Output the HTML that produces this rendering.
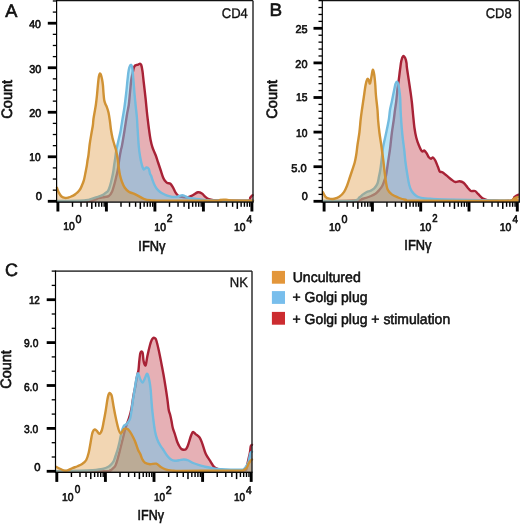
<!DOCTYPE html><html><head><meta charset="utf-8"><style>html,body{margin:0;padding:0;background:#fff;}svg{display:block;will-change:transform;}text{font-family:"Liberation Sans",sans-serif;fill:#111;text-rendering:geometricPrecision;}</style></head><body><svg width="520" height="524" viewBox="0 0 520 524"><path d="M57.00,201.8 L57.00,201.10 C62.50,201.07 83.08,201.38 90.00,200.90 C96.92,200.42 96.04,198.85 98.50,198.20 C100.96,197.55 103.03,197.37 104.75,197.00 C106.47,196.63 107.59,196.88 108.80,196.00 C110.01,195.12 111.00,193.92 112.00,191.70 C113.00,189.48 114.07,185.32 114.80,182.70 C115.53,180.08 115.90,178.15 116.40,176.00 C116.90,173.85 117.28,172.82 117.80,169.80 C118.32,166.78 118.98,161.20 119.50,157.90 C120.02,154.60 120.50,151.98 120.90,150.00 C121.30,148.02 121.32,149.12 121.90,146.00 C122.48,142.88 123.57,136.42 124.40,131.25 C125.23,126.08 126.18,119.38 126.90,115.00 C127.62,110.62 128.23,108.75 128.75,105.00 C129.27,101.25 129.58,96.67 130.00,92.50 C130.42,88.33 130.83,83.12 131.25,80.00 C131.67,76.88 132.08,75.75 132.50,73.75 C132.92,71.75 133.33,69.36 133.75,68.00 C134.17,66.64 134.54,66.10 135.00,65.60 C135.46,65.10 135.98,65.17 136.50,65.00 C137.02,64.83 137.52,64.83 138.10,64.60 C138.68,64.37 139.47,63.53 140.00,63.60 C140.53,63.67 140.83,63.73 141.25,65.00 C141.67,66.28 142.08,68.33 142.50,71.25 C142.92,74.17 143.23,77.92 143.75,82.50 C144.27,87.08 145.07,93.83 145.60,98.75 C146.12,103.67 146.55,108.62 146.90,112.00 C147.25,115.38 147.39,116.42 147.70,119.00 C148.01,121.58 148.27,124.00 148.75,127.50 C149.23,131.00 149.97,136.67 150.60,140.00 C151.22,143.33 151.67,145.00 152.50,147.50 C153.33,150.00 154.67,152.50 155.60,155.00 C156.53,157.50 157.27,160.00 158.10,162.50 C158.93,165.00 159.77,167.50 160.60,170.00 C161.43,172.50 162.37,175.70 163.10,177.50 C163.83,179.30 164.30,179.88 165.00,180.80 C165.70,181.72 166.40,182.52 167.30,183.00 C168.20,183.48 169.43,182.92 170.40,183.70 C171.37,184.48 172.27,186.27 173.10,187.70 C173.93,189.13 174.53,190.95 175.40,192.30 C176.27,193.65 177.15,195.03 178.30,195.80 C179.45,196.57 180.67,196.65 182.30,196.90 C183.93,197.15 186.37,197.57 188.10,197.30 C189.83,197.03 191.07,196.13 192.70,195.30 C194.33,194.47 196.37,192.60 197.90,192.30 C199.43,192.00 200.65,192.73 201.90,193.50 C203.15,194.27 204.25,195.95 205.40,196.90 C206.55,197.85 207.45,198.65 208.80,199.20 C210.15,199.75 210.80,199.98 213.50,200.20 C216.20,200.42 219.33,200.43 225.00,200.50 C230.67,200.57 243.28,201.10 247.50,200.60 C251.72,200.10 249.45,198.40 250.30,197.50 C251.15,196.60 252.22,195.58 252.60,195.20 L252.60,201.8 Z" fill="rgba(192,58,70,0.40)" stroke="none"/><path d="M57.00,201.10 C62.50,201.07 83.08,201.38 90.00,200.90 C96.92,200.42 96.04,198.85 98.50,198.20 C100.96,197.55 103.03,197.37 104.75,197.00 C106.47,196.63 107.59,196.88 108.80,196.00 C110.01,195.12 111.00,193.92 112.00,191.70 C113.00,189.48 114.07,185.32 114.80,182.70 C115.53,180.08 115.90,178.15 116.40,176.00 C116.90,173.85 117.28,172.82 117.80,169.80 C118.32,166.78 118.98,161.20 119.50,157.90 C120.02,154.60 120.50,151.98 120.90,150.00 C121.30,148.02 121.32,149.12 121.90,146.00 C122.48,142.88 123.57,136.42 124.40,131.25 C125.23,126.08 126.18,119.38 126.90,115.00 C127.62,110.62 128.23,108.75 128.75,105.00 C129.27,101.25 129.58,96.67 130.00,92.50 C130.42,88.33 130.83,83.12 131.25,80.00 C131.67,76.88 132.08,75.75 132.50,73.75 C132.92,71.75 133.33,69.36 133.75,68.00 C134.17,66.64 134.54,66.10 135.00,65.60 C135.46,65.10 135.98,65.17 136.50,65.00 C137.02,64.83 137.52,64.83 138.10,64.60 C138.68,64.37 139.47,63.53 140.00,63.60 C140.53,63.67 140.83,63.73 141.25,65.00 C141.67,66.28 142.08,68.33 142.50,71.25 C142.92,74.17 143.23,77.92 143.75,82.50 C144.27,87.08 145.07,93.83 145.60,98.75 C146.12,103.67 146.55,108.62 146.90,112.00 C147.25,115.38 147.39,116.42 147.70,119.00 C148.01,121.58 148.27,124.00 148.75,127.50 C149.23,131.00 149.97,136.67 150.60,140.00 C151.22,143.33 151.67,145.00 152.50,147.50 C153.33,150.00 154.67,152.50 155.60,155.00 C156.53,157.50 157.27,160.00 158.10,162.50 C158.93,165.00 159.77,167.50 160.60,170.00 C161.43,172.50 162.37,175.70 163.10,177.50 C163.83,179.30 164.30,179.88 165.00,180.80 C165.70,181.72 166.40,182.52 167.30,183.00 C168.20,183.48 169.43,182.92 170.40,183.70 C171.37,184.48 172.27,186.27 173.10,187.70 C173.93,189.13 174.53,190.95 175.40,192.30 C176.27,193.65 177.15,195.03 178.30,195.80 C179.45,196.57 180.67,196.65 182.30,196.90 C183.93,197.15 186.37,197.57 188.10,197.30 C189.83,197.03 191.07,196.13 192.70,195.30 C194.33,194.47 196.37,192.60 197.90,192.30 C199.43,192.00 200.65,192.73 201.90,193.50 C203.15,194.27 204.25,195.95 205.40,196.90 C206.55,197.85 207.45,198.65 208.80,199.20 C210.15,199.75 210.80,199.98 213.50,200.20 C216.20,200.42 219.33,200.43 225.00,200.50 C230.67,200.57 243.28,201.10 247.50,200.60 C251.72,200.10 249.45,198.40 250.30,197.50 C251.15,196.60 252.22,195.58 252.60,195.20" fill="none" stroke="#A82236" stroke-width="2.4" stroke-linejoin="round" stroke-linecap="round"/><path d="M57.00,201.8 L57.00,201.00 C60.83,200.97 74.75,201.00 80.00,200.80 C85.25,200.60 85.83,200.37 88.50,199.80 C91.17,199.23 94.08,198.00 96.00,197.40 C97.92,196.80 98.75,196.67 100.00,196.20 C101.25,195.73 102.67,195.07 103.50,194.60 C104.33,194.13 104.28,193.97 105.00,193.40 C105.72,192.83 107.08,192.10 107.80,191.20 C108.52,190.30 108.80,189.37 109.30,188.00 C109.80,186.63 110.32,184.83 110.80,183.00 C111.28,181.17 111.80,178.83 112.20,177.00 C112.60,175.17 112.87,174.00 113.20,172.00 C113.53,170.00 113.83,167.50 114.20,165.00 C114.57,162.50 115.07,159.33 115.40,157.00 C115.73,154.67 115.75,153.50 116.20,151.00 C116.65,148.50 117.55,144.50 118.10,142.00 C118.65,139.50 119.08,137.83 119.50,136.00 C119.92,134.17 120.10,133.83 120.60,131.00 C121.10,128.17 121.87,122.92 122.50,119.00 C123.13,115.08 123.78,111.92 124.40,107.50 C125.03,103.08 125.73,97.08 126.25,92.50 C126.77,87.92 127.08,83.75 127.50,80.00 C127.92,76.25 128.23,72.50 128.75,70.00 C129.27,67.50 130.03,65.42 130.60,65.00 C131.17,64.58 131.78,65.62 132.20,67.50 C132.62,69.38 132.73,72.08 133.10,76.25 C133.47,80.42 133.98,87.71 134.40,92.50 C134.82,97.29 135.18,100.83 135.60,105.00 C136.02,109.17 136.58,113.75 136.90,117.50 C137.22,121.25 137.19,122.71 137.50,127.50 C137.81,132.29 138.33,141.50 138.75,146.25 C139.17,151.00 139.47,152.88 140.00,156.00 C140.53,159.12 141.28,162.75 141.90,165.00 C142.53,167.25 143.03,169.08 143.75,169.50 C144.47,169.92 145.42,167.62 146.25,167.50 C147.08,167.38 148.12,167.71 148.75,168.75 C149.38,169.79 149.58,172.54 150.00,173.75 C150.42,174.96 150.83,174.96 151.25,176.00 C151.67,177.04 151.96,178.50 152.50,180.00 C153.04,181.50 153.75,183.50 154.50,185.00 C155.25,186.50 156.12,187.87 157.00,189.00 C157.88,190.13 158.80,191.00 159.80,191.80 C160.80,192.60 161.88,193.22 163.00,193.80 C164.12,194.38 165.33,194.88 166.50,195.30 C167.67,195.72 168.75,196.03 170.00,196.30 C171.25,196.57 172.75,196.85 174.00,196.90 C175.25,196.95 176.53,196.78 177.50,196.60 C178.47,196.42 179.00,196.03 179.80,195.80 C180.60,195.57 181.47,195.17 182.30,195.20 C183.13,195.23 183.93,195.63 184.80,196.00 C185.67,196.37 186.57,197.05 187.50,197.40 C188.43,197.75 189.15,197.87 190.40,198.10 C191.65,198.33 193.08,198.55 195.00,198.80 C196.92,199.05 198.57,199.32 201.90,199.60 C205.23,199.88 206.48,200.32 215.00,200.50 C223.52,200.68 246.67,200.67 253.00,200.70 L253.00,201.8 Z" fill="rgba(110,202,239,0.50)" stroke="none"/><path d="M57.00,201.00 C60.83,200.97 74.75,201.00 80.00,200.80 C85.25,200.60 85.83,200.37 88.50,199.80 C91.17,199.23 94.08,198.00 96.00,197.40 C97.92,196.80 98.75,196.67 100.00,196.20 C101.25,195.73 102.67,195.07 103.50,194.60 C104.33,194.13 104.28,193.97 105.00,193.40 C105.72,192.83 107.08,192.10 107.80,191.20 C108.52,190.30 108.80,189.37 109.30,188.00 C109.80,186.63 110.32,184.83 110.80,183.00 C111.28,181.17 111.80,178.83 112.20,177.00 C112.60,175.17 112.87,174.00 113.20,172.00 C113.53,170.00 113.83,167.50 114.20,165.00 C114.57,162.50 115.07,159.33 115.40,157.00 C115.73,154.67 115.75,153.50 116.20,151.00 C116.65,148.50 117.55,144.50 118.10,142.00 C118.65,139.50 119.08,137.83 119.50,136.00 C119.92,134.17 120.10,133.83 120.60,131.00 C121.10,128.17 121.87,122.92 122.50,119.00 C123.13,115.08 123.78,111.92 124.40,107.50 C125.03,103.08 125.73,97.08 126.25,92.50 C126.77,87.92 127.08,83.75 127.50,80.00 C127.92,76.25 128.23,72.50 128.75,70.00 C129.27,67.50 130.03,65.42 130.60,65.00 C131.17,64.58 131.78,65.62 132.20,67.50 C132.62,69.38 132.73,72.08 133.10,76.25 C133.47,80.42 133.98,87.71 134.40,92.50 C134.82,97.29 135.18,100.83 135.60,105.00 C136.02,109.17 136.58,113.75 136.90,117.50 C137.22,121.25 137.19,122.71 137.50,127.50 C137.81,132.29 138.33,141.50 138.75,146.25 C139.17,151.00 139.47,152.88 140.00,156.00 C140.53,159.12 141.28,162.75 141.90,165.00 C142.53,167.25 143.03,169.08 143.75,169.50 C144.47,169.92 145.42,167.62 146.25,167.50 C147.08,167.38 148.12,167.71 148.75,168.75 C149.38,169.79 149.58,172.54 150.00,173.75 C150.42,174.96 150.83,174.96 151.25,176.00 C151.67,177.04 151.96,178.50 152.50,180.00 C153.04,181.50 153.75,183.50 154.50,185.00 C155.25,186.50 156.12,187.87 157.00,189.00 C157.88,190.13 158.80,191.00 159.80,191.80 C160.80,192.60 161.88,193.22 163.00,193.80 C164.12,194.38 165.33,194.88 166.50,195.30 C167.67,195.72 168.75,196.03 170.00,196.30 C171.25,196.57 172.75,196.85 174.00,196.90 C175.25,196.95 176.53,196.78 177.50,196.60 C178.47,196.42 179.00,196.03 179.80,195.80 C180.60,195.57 181.47,195.17 182.30,195.20 C183.13,195.23 183.93,195.63 184.80,196.00 C185.67,196.37 186.57,197.05 187.50,197.40 C188.43,197.75 189.15,197.87 190.40,198.10 C191.65,198.33 193.08,198.55 195.00,198.80 C196.92,199.05 198.57,199.32 201.90,199.60 C205.23,199.88 206.48,200.32 215.00,200.50 C223.52,200.68 246.67,200.67 253.00,200.70" fill="none" stroke="#72BBDF" stroke-width="2.4" stroke-linejoin="round" stroke-linecap="round"/><path d="M56.90,201.8 L56.90,187.80 C57.20,188.57 57.93,190.95 58.70,192.40 C59.47,193.85 60.45,195.58 61.50,196.50 C62.55,197.42 63.83,197.73 65.00,197.90 C66.17,198.07 67.47,197.73 68.50,197.50 C69.53,197.27 70.35,196.85 71.20,196.50 C72.05,196.15 72.85,195.83 73.60,195.40 C74.35,194.97 75.00,194.45 75.70,193.90 C76.40,193.35 77.15,192.75 77.80,192.10 C78.45,191.45 79.07,190.75 79.60,190.00 C80.13,189.25 80.57,188.47 81.00,187.60 C81.43,186.73 81.82,185.73 82.20,184.80 C82.58,183.87 82.97,182.97 83.30,182.00 C83.63,181.03 83.83,180.58 84.20,179.00 C84.57,177.42 85.08,174.67 85.50,172.50 C85.92,170.33 86.40,168.08 86.75,166.00 C87.10,163.92 87.31,161.83 87.60,160.00 C87.89,158.17 88.14,157.71 88.50,155.00 C88.86,152.29 89.23,147.50 89.75,143.75 C90.27,140.00 91.07,135.62 91.60,132.50 C92.12,129.38 92.58,127.29 92.90,125.00 C93.22,122.71 93.15,121.25 93.50,118.75 C93.85,116.25 94.58,112.50 95.00,110.00 C95.42,107.50 95.67,106.25 96.00,103.75 C96.33,101.25 96.68,98.12 97.00,95.00 C97.32,91.88 97.60,88.00 97.90,85.00 C98.20,82.00 98.49,78.88 98.80,77.00 C99.11,75.12 99.42,74.12 99.75,73.70 C100.08,73.28 100.42,73.62 100.80,74.50 C101.17,75.38 101.65,77.25 102.00,79.00 C102.35,80.75 102.65,82.67 102.90,85.00 C103.15,87.33 103.28,90.50 103.50,93.00 C103.72,95.50 103.88,98.17 104.20,100.00 C104.52,101.83 105.00,102.92 105.40,104.00 C105.80,105.08 106.08,105.08 106.60,106.50 C107.12,107.92 107.95,110.08 108.50,112.50 C109.05,114.92 109.48,118.08 109.90,121.00 C110.32,123.92 110.57,127.17 111.00,130.00 C111.43,132.83 111.98,135.71 112.50,138.00 C113.02,140.29 113.52,141.75 114.10,143.75 C114.68,145.75 115.43,147.62 116.00,150.00 C116.57,152.38 117.03,155.02 117.50,158.00 C117.97,160.98 118.40,165.10 118.80,167.90 C119.20,170.70 119.38,172.50 119.90,174.80 C120.42,177.10 121.08,179.55 121.90,181.70 C122.72,183.85 123.65,186.03 124.80,187.70 C125.95,189.37 127.30,190.70 128.80,191.70 C130.30,192.70 132.15,192.97 133.80,193.70 C135.45,194.43 137.05,195.25 138.70,196.10 C140.35,196.95 141.82,198.10 143.70,198.80 C145.58,199.50 147.28,200.00 150.00,200.30 C152.72,200.60 148.83,200.55 160.00,200.60 C171.17,200.65 207.00,200.72 217.00,200.60 C227.00,200.48 218.50,200.03 220.00,199.90 C221.50,199.77 224.17,199.72 226.00,199.80 C227.83,199.88 226.50,200.27 231.00,200.40 C235.50,200.53 249.33,200.57 253.00,200.60 L253.00,201.8 Z" fill="rgba(220,145,50,0.37)" stroke="none"/><path d="M56.90,187.80 C57.20,188.57 57.93,190.95 58.70,192.40 C59.47,193.85 60.45,195.58 61.50,196.50 C62.55,197.42 63.83,197.73 65.00,197.90 C66.17,198.07 67.47,197.73 68.50,197.50 C69.53,197.27 70.35,196.85 71.20,196.50 C72.05,196.15 72.85,195.83 73.60,195.40 C74.35,194.97 75.00,194.45 75.70,193.90 C76.40,193.35 77.15,192.75 77.80,192.10 C78.45,191.45 79.07,190.75 79.60,190.00 C80.13,189.25 80.57,188.47 81.00,187.60 C81.43,186.73 81.82,185.73 82.20,184.80 C82.58,183.87 82.97,182.97 83.30,182.00 C83.63,181.03 83.83,180.58 84.20,179.00 C84.57,177.42 85.08,174.67 85.50,172.50 C85.92,170.33 86.40,168.08 86.75,166.00 C87.10,163.92 87.31,161.83 87.60,160.00 C87.89,158.17 88.14,157.71 88.50,155.00 C88.86,152.29 89.23,147.50 89.75,143.75 C90.27,140.00 91.07,135.62 91.60,132.50 C92.12,129.38 92.58,127.29 92.90,125.00 C93.22,122.71 93.15,121.25 93.50,118.75 C93.85,116.25 94.58,112.50 95.00,110.00 C95.42,107.50 95.67,106.25 96.00,103.75 C96.33,101.25 96.68,98.12 97.00,95.00 C97.32,91.88 97.60,88.00 97.90,85.00 C98.20,82.00 98.49,78.88 98.80,77.00 C99.11,75.12 99.42,74.12 99.75,73.70 C100.08,73.28 100.42,73.62 100.80,74.50 C101.17,75.38 101.65,77.25 102.00,79.00 C102.35,80.75 102.65,82.67 102.90,85.00 C103.15,87.33 103.28,90.50 103.50,93.00 C103.72,95.50 103.88,98.17 104.20,100.00 C104.52,101.83 105.00,102.92 105.40,104.00 C105.80,105.08 106.08,105.08 106.60,106.50 C107.12,107.92 107.95,110.08 108.50,112.50 C109.05,114.92 109.48,118.08 109.90,121.00 C110.32,123.92 110.57,127.17 111.00,130.00 C111.43,132.83 111.98,135.71 112.50,138.00 C113.02,140.29 113.52,141.75 114.10,143.75 C114.68,145.75 115.43,147.62 116.00,150.00 C116.57,152.38 117.03,155.02 117.50,158.00 C117.97,160.98 118.40,165.10 118.80,167.90 C119.20,170.70 119.38,172.50 119.90,174.80 C120.42,177.10 121.08,179.55 121.90,181.70 C122.72,183.85 123.65,186.03 124.80,187.70 C125.95,189.37 127.30,190.70 128.80,191.70 C130.30,192.70 132.15,192.97 133.80,193.70 C135.45,194.43 137.05,195.25 138.70,196.10 C140.35,196.95 141.82,198.10 143.70,198.80 C145.58,199.50 147.28,200.00 150.00,200.30 C152.72,200.60 148.83,200.55 160.00,200.60 C171.17,200.65 207.00,200.72 217.00,200.60 C227.00,200.48 218.50,200.03 220.00,199.90 C221.50,199.77 224.17,199.72 226.00,199.80 C227.83,199.88 226.50,200.27 231.00,200.40 C235.50,200.53 249.33,200.57 253.00,200.60" fill="none" stroke="#D09234" stroke-width="2.4" stroke-linejoin="round" stroke-linecap="round"/><path d="M323.00,201.8 L323.00,201.10 C328.33,201.05 348.33,201.19 355.00,200.80 C361.67,200.41 360.42,199.51 363.00,198.75 C365.58,197.99 368.42,197.08 370.50,196.25 C372.58,195.42 374.04,194.79 375.50,193.75 C376.96,192.71 378.13,191.29 379.25,190.00 C380.37,188.71 381.38,187.50 382.20,186.00 C383.02,184.50 383.55,182.83 384.20,181.00 C384.85,179.17 385.47,178.08 386.10,175.00 C386.73,171.92 387.37,166.67 388.00,162.50 C388.63,158.33 389.48,152.92 389.90,150.00 C390.32,147.08 390.17,147.92 390.50,145.00 C390.83,142.08 391.36,136.67 391.90,132.50 C392.44,128.33 393.23,123.75 393.75,120.00 C394.27,116.25 394.58,113.12 395.00,110.00 C395.42,106.88 395.83,104.79 396.25,101.25 C396.67,97.71 397.08,92.29 397.50,88.75 C397.92,85.21 398.33,83.12 398.75,80.00 C399.17,76.88 399.57,73.17 400.00,70.00 C400.43,66.83 400.78,63.30 401.30,61.00 C401.82,58.70 402.45,56.70 403.10,56.20 C403.75,55.70 404.63,56.87 405.20,58.00 C405.77,59.13 406.22,61.42 406.50,63.00 C406.78,64.58 406.52,64.67 406.90,67.50 C407.27,70.33 408.13,75.83 408.75,80.00 C409.37,84.17 410.08,88.75 410.60,92.50 C411.12,96.25 411.48,98.75 411.90,102.50 C412.32,106.25 412.68,110.83 413.10,115.00 C413.52,119.17 413.88,123.75 414.40,127.50 C414.92,131.25 415.52,134.58 416.25,137.50 C416.98,140.42 417.81,142.71 418.75,145.00 C419.69,147.29 420.96,150.32 421.90,151.25 C422.84,152.18 423.57,150.18 424.40,150.60 C425.23,151.02 426.20,152.70 426.90,153.75 C427.60,154.80 427.90,156.07 428.60,156.90 C429.30,157.73 430.37,158.65 431.10,158.75 C431.83,158.85 432.30,157.21 433.00,157.50 C433.70,157.79 434.47,158.92 435.30,160.50 C436.13,162.08 437.23,165.13 438.00,167.00 C438.77,168.87 439.17,170.83 439.90,171.70 C440.63,172.57 441.32,171.58 442.40,172.20 C443.48,172.82 444.92,174.18 446.40,175.40 C447.88,176.62 449.80,178.40 451.30,179.50 C452.80,180.60 454.03,181.72 455.40,182.00 C456.77,182.28 458.13,181.07 459.50,181.20 C460.87,181.33 462.23,181.72 463.60,182.80 C464.97,183.88 466.47,186.33 467.70,187.70 C468.93,189.07 469.78,190.45 471.00,191.00 C472.22,191.55 473.78,190.47 475.00,191.00 C476.22,191.53 477.07,192.98 478.30,194.20 C479.53,195.42 480.90,197.32 482.40,198.30 C483.90,199.28 485.67,199.70 487.30,200.10 C488.93,200.50 488.25,200.60 492.20,200.70 C496.15,200.80 507.28,201.32 511.00,200.70 C514.72,200.08 513.58,197.85 514.50,197.00 C515.42,196.15 515.83,195.98 516.50,195.60 C517.17,195.22 518.17,194.85 518.50,194.70 L518.50,201.8 Z" fill="rgba(192,58,70,0.40)" stroke="none"/><path d="M323.00,201.10 C328.33,201.05 348.33,201.19 355.00,200.80 C361.67,200.41 360.42,199.51 363.00,198.75 C365.58,197.99 368.42,197.08 370.50,196.25 C372.58,195.42 374.04,194.79 375.50,193.75 C376.96,192.71 378.13,191.29 379.25,190.00 C380.37,188.71 381.38,187.50 382.20,186.00 C383.02,184.50 383.55,182.83 384.20,181.00 C384.85,179.17 385.47,178.08 386.10,175.00 C386.73,171.92 387.37,166.67 388.00,162.50 C388.63,158.33 389.48,152.92 389.90,150.00 C390.32,147.08 390.17,147.92 390.50,145.00 C390.83,142.08 391.36,136.67 391.90,132.50 C392.44,128.33 393.23,123.75 393.75,120.00 C394.27,116.25 394.58,113.12 395.00,110.00 C395.42,106.88 395.83,104.79 396.25,101.25 C396.67,97.71 397.08,92.29 397.50,88.75 C397.92,85.21 398.33,83.12 398.75,80.00 C399.17,76.88 399.57,73.17 400.00,70.00 C400.43,66.83 400.78,63.30 401.30,61.00 C401.82,58.70 402.45,56.70 403.10,56.20 C403.75,55.70 404.63,56.87 405.20,58.00 C405.77,59.13 406.22,61.42 406.50,63.00 C406.78,64.58 406.52,64.67 406.90,67.50 C407.27,70.33 408.13,75.83 408.75,80.00 C409.37,84.17 410.08,88.75 410.60,92.50 C411.12,96.25 411.48,98.75 411.90,102.50 C412.32,106.25 412.68,110.83 413.10,115.00 C413.52,119.17 413.88,123.75 414.40,127.50 C414.92,131.25 415.52,134.58 416.25,137.50 C416.98,140.42 417.81,142.71 418.75,145.00 C419.69,147.29 420.96,150.32 421.90,151.25 C422.84,152.18 423.57,150.18 424.40,150.60 C425.23,151.02 426.20,152.70 426.90,153.75 C427.60,154.80 427.90,156.07 428.60,156.90 C429.30,157.73 430.37,158.65 431.10,158.75 C431.83,158.85 432.30,157.21 433.00,157.50 C433.70,157.79 434.47,158.92 435.30,160.50 C436.13,162.08 437.23,165.13 438.00,167.00 C438.77,168.87 439.17,170.83 439.90,171.70 C440.63,172.57 441.32,171.58 442.40,172.20 C443.48,172.82 444.92,174.18 446.40,175.40 C447.88,176.62 449.80,178.40 451.30,179.50 C452.80,180.60 454.03,181.72 455.40,182.00 C456.77,182.28 458.13,181.07 459.50,181.20 C460.87,181.33 462.23,181.72 463.60,182.80 C464.97,183.88 466.47,186.33 467.70,187.70 C468.93,189.07 469.78,190.45 471.00,191.00 C472.22,191.55 473.78,190.47 475.00,191.00 C476.22,191.53 477.07,192.98 478.30,194.20 C479.53,195.42 480.90,197.32 482.40,198.30 C483.90,199.28 485.67,199.70 487.30,200.10 C488.93,200.50 488.25,200.60 492.20,200.70 C496.15,200.80 507.28,201.32 511.00,200.70 C514.72,200.08 513.58,197.85 514.50,197.00 C515.42,196.15 515.83,195.98 516.50,195.60 C517.17,195.22 518.17,194.85 518.50,194.70" fill="none" stroke="#A82236" stroke-width="2.4" stroke-linejoin="round" stroke-linecap="round"/><path d="M323.00,201.8 L323.00,201.00 C328.21,200.93 348.21,201.18 354.25,200.60 C360.29,200.02 357.79,198.53 359.25,197.50 C360.71,196.47 361.75,195.32 363.00,194.40 C364.25,193.48 365.50,192.60 366.75,192.00 C368.00,191.40 369.25,191.42 370.50,190.80 C371.75,190.18 373.08,189.52 374.25,188.30 C375.42,187.08 376.73,185.38 377.50,183.50 C378.27,181.62 378.43,179.25 378.90,177.00 C379.37,174.75 379.85,172.83 380.30,170.00 C380.75,167.17 381.13,163.83 381.60,160.00 C382.07,156.17 382.33,151.58 383.10,147.00 C383.88,142.42 385.31,137.00 386.25,132.50 C387.19,128.00 388.12,123.75 388.75,120.00 C389.38,116.25 389.48,113.12 390.00,110.00 C390.52,106.88 391.17,104.79 391.90,101.25 C392.63,97.71 393.80,91.62 394.40,88.75 C395.00,85.88 395.08,85.16 395.50,84.00 C395.92,82.84 396.42,81.72 396.90,81.80 C397.38,81.88 398.00,83.13 398.40,84.50 C398.80,85.87 399.00,87.75 399.30,90.00 C399.60,92.25 399.98,94.67 400.20,98.00 C400.42,101.33 400.42,106.00 400.60,110.00 C400.78,114.00 400.98,117.67 401.30,122.00 C401.62,126.33 402.01,131.33 402.50,136.00 C402.99,140.67 403.75,145.58 404.25,150.00 C404.75,154.42 404.98,158.33 405.50,162.50 C406.02,166.67 406.77,171.25 407.40,175.00 C408.02,178.75 408.52,182.29 409.25,185.00 C409.98,187.71 410.50,189.37 411.75,191.25 C413.00,193.13 414.88,195.14 416.75,196.30 C418.62,197.46 420.71,197.78 423.00,198.20 C425.29,198.62 427.17,198.60 430.50,198.80 C433.83,199.00 434.75,199.15 443.00,199.40 C451.25,199.65 467.42,200.08 480.00,200.30 C492.58,200.52 512.08,200.63 518.50,200.70 L518.50,201.8 Z" fill="rgba(110,202,239,0.50)" stroke="none"/><path d="M323.00,201.00 C328.21,200.93 348.21,201.18 354.25,200.60 C360.29,200.02 357.79,198.53 359.25,197.50 C360.71,196.47 361.75,195.32 363.00,194.40 C364.25,193.48 365.50,192.60 366.75,192.00 C368.00,191.40 369.25,191.42 370.50,190.80 C371.75,190.18 373.08,189.52 374.25,188.30 C375.42,187.08 376.73,185.38 377.50,183.50 C378.27,181.62 378.43,179.25 378.90,177.00 C379.37,174.75 379.85,172.83 380.30,170.00 C380.75,167.17 381.13,163.83 381.60,160.00 C382.07,156.17 382.33,151.58 383.10,147.00 C383.88,142.42 385.31,137.00 386.25,132.50 C387.19,128.00 388.12,123.75 388.75,120.00 C389.38,116.25 389.48,113.12 390.00,110.00 C390.52,106.88 391.17,104.79 391.90,101.25 C392.63,97.71 393.80,91.62 394.40,88.75 C395.00,85.88 395.08,85.16 395.50,84.00 C395.92,82.84 396.42,81.72 396.90,81.80 C397.38,81.88 398.00,83.13 398.40,84.50 C398.80,85.87 399.00,87.75 399.30,90.00 C399.60,92.25 399.98,94.67 400.20,98.00 C400.42,101.33 400.42,106.00 400.60,110.00 C400.78,114.00 400.98,117.67 401.30,122.00 C401.62,126.33 402.01,131.33 402.50,136.00 C402.99,140.67 403.75,145.58 404.25,150.00 C404.75,154.42 404.98,158.33 405.50,162.50 C406.02,166.67 406.77,171.25 407.40,175.00 C408.02,178.75 408.52,182.29 409.25,185.00 C409.98,187.71 410.50,189.37 411.75,191.25 C413.00,193.13 414.88,195.14 416.75,196.30 C418.62,197.46 420.71,197.78 423.00,198.20 C425.29,198.62 427.17,198.60 430.50,198.80 C433.83,199.00 434.75,199.15 443.00,199.40 C451.25,199.65 467.42,200.08 480.00,200.30 C492.58,200.52 512.08,200.63 518.50,200.70" fill="none" stroke="#72BBDF" stroke-width="2.4" stroke-linejoin="round" stroke-linecap="round"/><path d="M323.00,201.8 L323.00,192.20 C323.42,192.97 324.46,195.72 325.50,196.80 C326.54,197.88 327.79,198.38 329.25,198.70 C330.71,199.02 332.58,199.02 334.25,198.70 C335.92,198.38 337.61,197.95 339.25,196.80 C340.89,195.65 342.76,193.77 344.10,191.80 C345.44,189.83 346.35,187.38 347.30,185.00 C348.25,182.62 348.97,180.00 349.80,177.50 C350.63,175.00 351.48,172.50 352.30,170.00 C353.12,167.50 354.05,165.00 354.70,162.50 C355.35,160.00 355.73,157.92 356.20,155.00 C356.67,152.08 356.97,148.75 357.50,145.00 C358.03,141.25 358.88,136.67 359.40,132.50 C359.92,128.33 360.18,123.75 360.60,120.00 C361.02,116.25 361.38,113.75 361.90,110.00 C362.42,106.25 363.13,101.67 363.75,97.50 C364.37,93.33 365.01,88.07 365.60,85.00 C366.19,81.93 366.78,79.93 367.30,79.10 C367.82,78.27 368.25,79.25 368.70,80.00 C369.15,80.75 369.53,84.18 370.00,83.60 C370.47,83.02 371.04,78.80 371.50,76.50 C371.96,74.20 372.30,70.13 372.75,69.80 C373.20,69.47 373.77,71.97 374.20,74.50 C374.62,77.03 375.02,81.58 375.30,85.00 C375.58,88.42 375.53,90.83 375.90,95.00 C376.27,99.17 377.13,105.83 377.50,110.00 C377.87,114.17 377.78,116.25 378.10,120.00 C378.42,123.75 378.88,128.33 379.40,132.50 C379.92,136.67 380.72,141.25 381.25,145.00 C381.78,148.75 382.23,152.17 382.60,155.00 C382.98,157.83 383.22,159.60 383.50,162.00 C383.78,164.40 383.90,166.15 384.30,169.40 C384.70,172.65 385.35,178.15 385.90,181.50 C386.45,184.85 386.62,187.35 387.60,189.50 C388.58,191.65 390.02,193.07 391.75,194.40 C393.48,195.73 395.71,196.60 398.00,197.50 C400.29,198.40 402.58,199.27 405.50,199.80 C408.42,200.33 398.08,200.53 415.50,200.70 C432.92,200.87 493.75,201.05 510.00,200.80 C526.25,200.55 512.00,199.72 513.00,199.20 C514.00,198.68 515.08,198.07 516.00,197.70 C516.92,197.33 518.08,197.12 518.50,197.00 L518.50,201.8 Z" fill="rgba(220,145,50,0.37)" stroke="none"/><path d="M323.00,192.20 C323.42,192.97 324.46,195.72 325.50,196.80 C326.54,197.88 327.79,198.38 329.25,198.70 C330.71,199.02 332.58,199.02 334.25,198.70 C335.92,198.38 337.61,197.95 339.25,196.80 C340.89,195.65 342.76,193.77 344.10,191.80 C345.44,189.83 346.35,187.38 347.30,185.00 C348.25,182.62 348.97,180.00 349.80,177.50 C350.63,175.00 351.48,172.50 352.30,170.00 C353.12,167.50 354.05,165.00 354.70,162.50 C355.35,160.00 355.73,157.92 356.20,155.00 C356.67,152.08 356.97,148.75 357.50,145.00 C358.03,141.25 358.88,136.67 359.40,132.50 C359.92,128.33 360.18,123.75 360.60,120.00 C361.02,116.25 361.38,113.75 361.90,110.00 C362.42,106.25 363.13,101.67 363.75,97.50 C364.37,93.33 365.01,88.07 365.60,85.00 C366.19,81.93 366.78,79.93 367.30,79.10 C367.82,78.27 368.25,79.25 368.70,80.00 C369.15,80.75 369.53,84.18 370.00,83.60 C370.47,83.02 371.04,78.80 371.50,76.50 C371.96,74.20 372.30,70.13 372.75,69.80 C373.20,69.47 373.77,71.97 374.20,74.50 C374.62,77.03 375.02,81.58 375.30,85.00 C375.58,88.42 375.53,90.83 375.90,95.00 C376.27,99.17 377.13,105.83 377.50,110.00 C377.87,114.17 377.78,116.25 378.10,120.00 C378.42,123.75 378.88,128.33 379.40,132.50 C379.92,136.67 380.72,141.25 381.25,145.00 C381.78,148.75 382.23,152.17 382.60,155.00 C382.98,157.83 383.22,159.60 383.50,162.00 C383.78,164.40 383.90,166.15 384.30,169.40 C384.70,172.65 385.35,178.15 385.90,181.50 C386.45,184.85 386.62,187.35 387.60,189.50 C388.58,191.65 390.02,193.07 391.75,194.40 C393.48,195.73 395.71,196.60 398.00,197.50 C400.29,198.40 402.58,199.27 405.50,199.80 C408.42,200.33 398.08,200.53 415.50,200.70 C432.92,200.87 493.75,201.05 510.00,200.80 C526.25,200.55 512.00,199.72 513.00,199.20 C514.00,198.68 515.08,198.07 516.00,197.70 C516.92,197.33 518.08,197.12 518.50,197.00" fill="none" stroke="#D09234" stroke-width="2.4" stroke-linejoin="round" stroke-linecap="round"/><path d="M56.00,472.0 L56.00,471.40 C64.17,471.37 96.00,471.35 105.00,471.20 C114.00,471.05 108.67,470.98 110.00,470.50 C111.33,470.02 112.08,469.13 113.00,468.30 C113.92,467.47 114.75,466.97 115.50,465.50 C116.25,464.03 116.75,462.08 117.50,459.50 C118.25,456.92 119.17,453.25 120.00,450.00 C120.83,446.75 121.67,443.33 122.50,440.00 C123.33,436.67 124.33,432.50 125.00,430.00 C125.67,427.50 125.88,426.88 126.50,425.00 C127.12,423.12 128.07,420.83 128.75,418.75 C129.43,416.67 130.07,414.58 130.60,412.50 C131.12,410.42 131.53,408.33 131.90,406.25 C132.27,404.17 132.52,401.88 132.80,400.00 C133.08,398.12 133.17,397.33 133.60,395.00 C134.03,392.67 134.92,388.67 135.40,386.00 C135.88,383.33 136.13,381.00 136.50,379.00 C136.87,377.00 137.27,375.50 137.60,374.00 C137.93,372.50 138.23,372.00 138.50,370.00 C138.77,368.00 138.90,364.80 139.20,362.00 C139.50,359.20 139.90,354.97 140.30,353.20 C140.70,351.43 141.20,351.43 141.60,351.40 C142.00,351.37 142.38,351.48 142.70,353.00 C143.02,354.52 143.18,358.58 143.50,360.50 C143.82,362.42 144.22,363.78 144.60,364.50 C144.98,365.22 145.33,366.22 145.80,364.80 C146.27,363.38 146.70,359.30 147.40,356.00 C148.10,352.70 149.27,347.70 150.00,345.00 C150.73,342.30 151.23,341.00 151.80,339.80 C152.37,338.60 152.87,338.05 153.40,337.80 C153.93,337.55 154.53,337.93 155.00,338.30 C155.47,338.67 155.58,338.05 156.20,340.00 C156.82,341.95 157.83,346.10 158.70,350.00 C159.57,353.90 160.62,359.40 161.40,363.40 C162.18,367.40 162.73,370.23 163.40,374.00 C164.07,377.77 164.73,381.77 165.40,386.00 C166.07,390.23 166.84,395.40 167.40,399.40 C167.96,403.40 168.28,407.40 168.75,410.00 C169.22,412.60 169.74,413.17 170.20,415.00 C170.66,416.83 171.07,418.83 171.50,421.00 C171.93,423.17 172.22,425.75 172.80,428.00 C173.38,430.25 174.28,432.25 175.00,434.50 C175.72,436.75 176.35,439.50 177.10,441.50 C177.85,443.50 178.78,445.25 179.50,446.50 C180.22,447.75 180.72,448.45 181.40,449.00 C182.08,449.55 182.87,449.75 183.60,449.80 C184.33,449.85 185.15,449.85 185.80,449.30 C186.45,448.75 186.93,447.80 187.50,446.50 C188.07,445.20 188.63,443.25 189.20,441.50 C189.77,439.75 190.32,437.55 190.90,436.00 C191.48,434.45 192.15,432.73 192.70,432.20 C193.25,431.67 193.68,432.45 194.20,432.80 C194.72,433.15 194.90,433.52 195.80,434.30 C196.70,435.08 198.53,436.00 199.60,437.50 C200.67,439.00 201.18,440.60 202.20,443.30 C203.22,446.00 204.40,450.82 205.70,453.70 C207.00,456.58 208.57,458.35 210.00,460.60 C211.43,462.85 212.85,465.77 214.30,467.20 C215.75,468.63 217.12,468.72 218.70,469.20 C220.28,469.68 219.58,469.92 223.80,470.10 C228.02,470.28 240.22,470.73 244.00,470.30 C247.78,469.87 245.75,469.38 246.50,467.50 C247.25,465.62 247.93,461.48 248.50,459.00 C249.07,456.52 249.52,454.77 249.90,452.60 C250.28,450.43 250.45,447.30 250.80,446.00 C251.15,444.70 251.80,445.00 252.00,444.80 L252.00,472.0 Z" fill="rgba(192,58,70,0.40)" stroke="none"/><path d="M56.00,471.40 C64.17,471.37 96.00,471.35 105.00,471.20 C114.00,471.05 108.67,470.98 110.00,470.50 C111.33,470.02 112.08,469.13 113.00,468.30 C113.92,467.47 114.75,466.97 115.50,465.50 C116.25,464.03 116.75,462.08 117.50,459.50 C118.25,456.92 119.17,453.25 120.00,450.00 C120.83,446.75 121.67,443.33 122.50,440.00 C123.33,436.67 124.33,432.50 125.00,430.00 C125.67,427.50 125.88,426.88 126.50,425.00 C127.12,423.12 128.07,420.83 128.75,418.75 C129.43,416.67 130.07,414.58 130.60,412.50 C131.12,410.42 131.53,408.33 131.90,406.25 C132.27,404.17 132.52,401.88 132.80,400.00 C133.08,398.12 133.17,397.33 133.60,395.00 C134.03,392.67 134.92,388.67 135.40,386.00 C135.88,383.33 136.13,381.00 136.50,379.00 C136.87,377.00 137.27,375.50 137.60,374.00 C137.93,372.50 138.23,372.00 138.50,370.00 C138.77,368.00 138.90,364.80 139.20,362.00 C139.50,359.20 139.90,354.97 140.30,353.20 C140.70,351.43 141.20,351.43 141.60,351.40 C142.00,351.37 142.38,351.48 142.70,353.00 C143.02,354.52 143.18,358.58 143.50,360.50 C143.82,362.42 144.22,363.78 144.60,364.50 C144.98,365.22 145.33,366.22 145.80,364.80 C146.27,363.38 146.70,359.30 147.40,356.00 C148.10,352.70 149.27,347.70 150.00,345.00 C150.73,342.30 151.23,341.00 151.80,339.80 C152.37,338.60 152.87,338.05 153.40,337.80 C153.93,337.55 154.53,337.93 155.00,338.30 C155.47,338.67 155.58,338.05 156.20,340.00 C156.82,341.95 157.83,346.10 158.70,350.00 C159.57,353.90 160.62,359.40 161.40,363.40 C162.18,367.40 162.73,370.23 163.40,374.00 C164.07,377.77 164.73,381.77 165.40,386.00 C166.07,390.23 166.84,395.40 167.40,399.40 C167.96,403.40 168.28,407.40 168.75,410.00 C169.22,412.60 169.74,413.17 170.20,415.00 C170.66,416.83 171.07,418.83 171.50,421.00 C171.93,423.17 172.22,425.75 172.80,428.00 C173.38,430.25 174.28,432.25 175.00,434.50 C175.72,436.75 176.35,439.50 177.10,441.50 C177.85,443.50 178.78,445.25 179.50,446.50 C180.22,447.75 180.72,448.45 181.40,449.00 C182.08,449.55 182.87,449.75 183.60,449.80 C184.33,449.85 185.15,449.85 185.80,449.30 C186.45,448.75 186.93,447.80 187.50,446.50 C188.07,445.20 188.63,443.25 189.20,441.50 C189.77,439.75 190.32,437.55 190.90,436.00 C191.48,434.45 192.15,432.73 192.70,432.20 C193.25,431.67 193.68,432.45 194.20,432.80 C194.72,433.15 194.90,433.52 195.80,434.30 C196.70,435.08 198.53,436.00 199.60,437.50 C200.67,439.00 201.18,440.60 202.20,443.30 C203.22,446.00 204.40,450.82 205.70,453.70 C207.00,456.58 208.57,458.35 210.00,460.60 C211.43,462.85 212.85,465.77 214.30,467.20 C215.75,468.63 217.12,468.72 218.70,469.20 C220.28,469.68 219.58,469.92 223.80,470.10 C228.02,470.28 240.22,470.73 244.00,470.30 C247.78,469.87 245.75,469.38 246.50,467.50 C247.25,465.62 247.93,461.48 248.50,459.00 C249.07,456.52 249.52,454.77 249.90,452.60 C250.28,450.43 250.45,447.30 250.80,446.00 C251.15,444.70 251.80,445.00 252.00,444.80" fill="none" stroke="#A82236" stroke-width="2.4" stroke-linejoin="round" stroke-linecap="round"/><path d="M56.00,472.0 L56.00,471.30 C60.00,471.22 73.92,470.98 80.00,470.80 C86.08,470.62 88.75,470.50 92.50,470.20 C96.25,469.90 99.79,469.62 102.50,469.00 C105.21,468.38 107.17,467.42 108.75,466.50 C110.33,465.58 111.17,464.42 112.00,463.50 C112.83,462.58 113.17,462.25 113.75,461.00 C114.33,459.75 114.88,457.83 115.50,456.00 C116.12,454.17 116.85,452.25 117.50,450.00 C118.15,447.75 118.90,444.67 119.40,442.50 C119.90,440.33 120.08,438.92 120.50,437.00 C120.92,435.08 121.36,432.83 121.90,431.00 C122.44,429.17 123.15,427.03 123.75,426.00 C124.35,424.97 124.88,425.30 125.50,424.80 C126.12,424.30 126.75,424.01 127.50,423.00 C128.25,421.99 129.38,420.50 130.00,418.75 C130.62,417.00 130.83,415.12 131.25,412.50 C131.67,409.88 132.14,405.58 132.50,403.00 C132.86,400.42 133.03,399.33 133.40,397.00 C133.77,394.67 134.27,391.72 134.70,389.00 C135.13,386.28 135.53,383.20 136.00,380.70 C136.47,378.20 137.08,375.12 137.50,374.00 C137.92,372.88 138.02,373.08 138.50,374.00 C138.98,374.92 139.70,378.08 140.40,379.50 C141.10,380.92 141.97,382.67 142.70,382.50 C143.43,382.33 144.13,379.92 144.80,378.50 C145.47,377.08 146.18,374.58 146.70,374.00 C147.22,373.42 147.45,373.88 147.90,375.00 C148.35,376.12 148.93,378.20 149.40,380.70 C149.87,383.20 150.37,386.78 150.70,390.00 C151.03,393.22 151.10,396.25 151.40,400.00 C151.70,403.75 151.90,407.29 152.50,412.50 C153.10,417.71 154.17,426.67 155.00,431.25 C155.83,435.83 156.67,437.71 157.50,440.00 C158.33,442.29 159.07,443.42 160.00,445.00 C160.93,446.58 161.93,447.75 163.10,449.50 C164.27,451.25 165.68,453.83 167.00,455.50 C168.32,457.17 169.67,458.62 171.00,459.50 C172.33,460.38 173.63,460.68 175.00,460.80 C176.37,460.92 177.73,460.42 179.20,460.20 C180.67,459.98 182.25,459.45 183.80,459.50 C185.35,459.55 186.95,459.92 188.50,460.50 C190.05,461.08 191.18,462.18 193.10,463.00 C195.02,463.82 198.05,464.80 200.00,465.40 C201.95,466.00 202.55,466.10 204.80,466.60 C207.05,467.10 210.90,467.97 213.50,468.40 C216.10,468.83 215.98,468.97 220.40,469.20 C224.82,469.43 236.07,469.83 240.00,469.80 C243.93,469.77 242.92,469.63 244.00,469.00 C245.08,468.37 245.73,467.25 246.50,466.00 C247.27,464.75 247.97,463.58 248.60,461.50 C249.23,459.42 249.73,455.12 250.30,453.50 C250.87,451.88 251.72,452.08 252.00,451.80 L252.00,472.0 Z" fill="rgba(110,202,239,0.50)" stroke="none"/><path d="M56.00,471.30 C60.00,471.22 73.92,470.98 80.00,470.80 C86.08,470.62 88.75,470.50 92.50,470.20 C96.25,469.90 99.79,469.62 102.50,469.00 C105.21,468.38 107.17,467.42 108.75,466.50 C110.33,465.58 111.17,464.42 112.00,463.50 C112.83,462.58 113.17,462.25 113.75,461.00 C114.33,459.75 114.88,457.83 115.50,456.00 C116.12,454.17 116.85,452.25 117.50,450.00 C118.15,447.75 118.90,444.67 119.40,442.50 C119.90,440.33 120.08,438.92 120.50,437.00 C120.92,435.08 121.36,432.83 121.90,431.00 C122.44,429.17 123.15,427.03 123.75,426.00 C124.35,424.97 124.88,425.30 125.50,424.80 C126.12,424.30 126.75,424.01 127.50,423.00 C128.25,421.99 129.38,420.50 130.00,418.75 C130.62,417.00 130.83,415.12 131.25,412.50 C131.67,409.88 132.14,405.58 132.50,403.00 C132.86,400.42 133.03,399.33 133.40,397.00 C133.77,394.67 134.27,391.72 134.70,389.00 C135.13,386.28 135.53,383.20 136.00,380.70 C136.47,378.20 137.08,375.12 137.50,374.00 C137.92,372.88 138.02,373.08 138.50,374.00 C138.98,374.92 139.70,378.08 140.40,379.50 C141.10,380.92 141.97,382.67 142.70,382.50 C143.43,382.33 144.13,379.92 144.80,378.50 C145.47,377.08 146.18,374.58 146.70,374.00 C147.22,373.42 147.45,373.88 147.90,375.00 C148.35,376.12 148.93,378.20 149.40,380.70 C149.87,383.20 150.37,386.78 150.70,390.00 C151.03,393.22 151.10,396.25 151.40,400.00 C151.70,403.75 151.90,407.29 152.50,412.50 C153.10,417.71 154.17,426.67 155.00,431.25 C155.83,435.83 156.67,437.71 157.50,440.00 C158.33,442.29 159.07,443.42 160.00,445.00 C160.93,446.58 161.93,447.75 163.10,449.50 C164.27,451.25 165.68,453.83 167.00,455.50 C168.32,457.17 169.67,458.62 171.00,459.50 C172.33,460.38 173.63,460.68 175.00,460.80 C176.37,460.92 177.73,460.42 179.20,460.20 C180.67,459.98 182.25,459.45 183.80,459.50 C185.35,459.55 186.95,459.92 188.50,460.50 C190.05,461.08 191.18,462.18 193.10,463.00 C195.02,463.82 198.05,464.80 200.00,465.40 C201.95,466.00 202.55,466.10 204.80,466.60 C207.05,467.10 210.90,467.97 213.50,468.40 C216.10,468.83 215.98,468.97 220.40,469.20 C224.82,469.43 236.07,469.83 240.00,469.80 C243.93,469.77 242.92,469.63 244.00,469.00 C245.08,468.37 245.73,467.25 246.50,466.00 C247.27,464.75 247.97,463.58 248.60,461.50 C249.23,459.42 249.73,455.12 250.30,453.50 C250.87,451.88 251.72,452.08 252.00,451.80" fill="none" stroke="#72BBDF" stroke-width="2.4" stroke-linejoin="round" stroke-linecap="round"/><path d="M56.25,472.0 L56.25,466.90 C56.88,467.21 58.75,468.17 60.00,468.75 C61.25,469.33 62.50,470.12 63.75,470.40 C65.00,470.67 66.04,470.78 67.50,470.40 C68.96,470.02 70.83,468.79 72.50,468.10 C74.17,467.41 75.83,466.98 77.50,466.25 C79.17,465.52 81.04,464.79 82.50,463.75 C83.96,462.71 85.21,461.88 86.25,460.00 C87.29,458.12 88.03,455.42 88.75,452.50 C89.47,449.58 90.12,445.17 90.60,442.50 C91.07,439.83 91.27,438.20 91.60,436.50 C91.93,434.80 92.13,433.45 92.60,432.30 C93.07,431.15 93.73,429.88 94.40,429.60 C95.07,429.32 95.77,429.90 96.60,430.60 C97.43,431.30 98.52,433.90 99.40,433.80 C100.28,433.70 101.18,432.09 101.90,430.00 C102.62,427.91 103.13,424.38 103.75,421.25 C104.37,418.12 104.97,414.96 105.60,411.25 C106.22,407.54 107.00,401.79 107.50,399.00 C108.00,396.21 108.25,395.50 108.60,394.50 C108.95,393.50 109.23,393.08 109.60,393.00 C109.97,392.92 110.42,393.42 110.80,394.00 C111.18,394.58 111.41,394.25 111.90,396.50 C112.39,398.75 113.03,403.58 113.75,407.50 C114.47,411.42 115.42,416.25 116.25,420.00 C117.08,423.75 118.03,427.75 118.75,430.00 C119.47,432.25 119.97,433.29 120.60,433.50 C121.22,433.71 121.90,432.00 122.50,431.25 C123.10,430.50 123.68,429.44 124.20,429.00 C124.72,428.56 125.10,428.63 125.60,428.60 C126.10,428.57 126.70,428.57 127.20,428.80 C127.70,429.03 127.92,429.18 128.60,430.00 C129.28,430.82 130.18,431.88 131.25,433.75 C132.32,435.62 133.86,438.54 135.00,441.25 C136.14,443.96 137.22,447.88 138.10,450.00 C138.98,452.12 139.60,452.47 140.30,454.00 C141.00,455.53 141.52,457.73 142.30,459.20 C143.08,460.67 143.72,461.97 145.00,462.80 C146.28,463.63 148.13,464.05 150.00,464.20 C151.87,464.35 154.40,463.22 156.20,463.70 C158.00,464.18 159.27,466.15 160.80,467.10 C162.33,468.05 163.48,468.82 165.40,469.40 C167.32,469.98 169.80,470.33 172.30,470.60 C174.80,470.87 172.12,471.00 180.40,471.00 C188.68,471.00 212.23,470.67 222.00,470.60 C231.77,470.53 235.43,470.63 239.00,470.60 C242.57,470.57 242.08,470.92 243.40,470.40 C244.72,469.88 246.03,468.63 246.90,467.50 C247.77,466.37 247.97,464.75 248.60,463.60 C249.23,462.45 250.13,461.27 250.70,460.60 C251.27,459.93 251.78,459.77 252.00,459.60 L252.00,472.0 Z" fill="rgba(220,145,50,0.37)" stroke="none"/><path d="M56.25,466.90 C56.88,467.21 58.75,468.17 60.00,468.75 C61.25,469.33 62.50,470.12 63.75,470.40 C65.00,470.67 66.04,470.78 67.50,470.40 C68.96,470.02 70.83,468.79 72.50,468.10 C74.17,467.41 75.83,466.98 77.50,466.25 C79.17,465.52 81.04,464.79 82.50,463.75 C83.96,462.71 85.21,461.88 86.25,460.00 C87.29,458.12 88.03,455.42 88.75,452.50 C89.47,449.58 90.12,445.17 90.60,442.50 C91.07,439.83 91.27,438.20 91.60,436.50 C91.93,434.80 92.13,433.45 92.60,432.30 C93.07,431.15 93.73,429.88 94.40,429.60 C95.07,429.32 95.77,429.90 96.60,430.60 C97.43,431.30 98.52,433.90 99.40,433.80 C100.28,433.70 101.18,432.09 101.90,430.00 C102.62,427.91 103.13,424.38 103.75,421.25 C104.37,418.12 104.97,414.96 105.60,411.25 C106.22,407.54 107.00,401.79 107.50,399.00 C108.00,396.21 108.25,395.50 108.60,394.50 C108.95,393.50 109.23,393.08 109.60,393.00 C109.97,392.92 110.42,393.42 110.80,394.00 C111.18,394.58 111.41,394.25 111.90,396.50 C112.39,398.75 113.03,403.58 113.75,407.50 C114.47,411.42 115.42,416.25 116.25,420.00 C117.08,423.75 118.03,427.75 118.75,430.00 C119.47,432.25 119.97,433.29 120.60,433.50 C121.22,433.71 121.90,432.00 122.50,431.25 C123.10,430.50 123.68,429.44 124.20,429.00 C124.72,428.56 125.10,428.63 125.60,428.60 C126.10,428.57 126.70,428.57 127.20,428.80 C127.70,429.03 127.92,429.18 128.60,430.00 C129.28,430.82 130.18,431.88 131.25,433.75 C132.32,435.62 133.86,438.54 135.00,441.25 C136.14,443.96 137.22,447.88 138.10,450.00 C138.98,452.12 139.60,452.47 140.30,454.00 C141.00,455.53 141.52,457.73 142.30,459.20 C143.08,460.67 143.72,461.97 145.00,462.80 C146.28,463.63 148.13,464.05 150.00,464.20 C151.87,464.35 154.40,463.22 156.20,463.70 C158.00,464.18 159.27,466.15 160.80,467.10 C162.33,468.05 163.48,468.82 165.40,469.40 C167.32,469.98 169.80,470.33 172.30,470.60 C174.80,470.87 172.12,471.00 180.40,471.00 C188.68,471.00 212.23,470.67 222.00,470.60 C231.77,470.53 235.43,470.63 239.00,470.60 C242.57,470.57 242.08,470.92 243.40,470.40 C244.72,469.88 246.03,468.63 246.90,467.50 C247.77,466.37 247.97,464.75 248.60,463.60 C249.23,462.45 250.13,461.27 250.70,460.60 C251.27,459.93 251.78,459.77 252.00,459.60" fill="none" stroke="#D09234" stroke-width="2.4" stroke-linejoin="round" stroke-linecap="round"/><rect x="47.80" y="199.90" width="8.8" height="2.8" fill="#000"/><rect x="52.80" y="189.52" width="3.8" height="1.3" fill="#000"/><rect x="52.80" y="178.39" width="3.8" height="1.3" fill="#000"/><rect x="52.80" y="167.26" width="3.8" height="1.3" fill="#000"/><rect x="47.80" y="155.38" width="8.8" height="2.8" fill="#000"/><rect x="52.80" y="145.00" width="3.8" height="1.3" fill="#000"/><rect x="52.80" y="133.87" width="3.8" height="1.3" fill="#000"/><rect x="52.80" y="122.74" width="3.8" height="1.3" fill="#000"/><rect x="47.80" y="110.86" width="8.8" height="2.8" fill="#000"/><rect x="52.80" y="100.48" width="3.8" height="1.3" fill="#000"/><rect x="52.80" y="89.35" width="3.8" height="1.3" fill="#000"/><rect x="52.80" y="78.22" width="3.8" height="1.3" fill="#000"/><rect x="47.80" y="66.34" width="8.8" height="2.8" fill="#000"/><rect x="52.80" y="55.96" width="3.8" height="1.3" fill="#000"/><rect x="52.80" y="44.83" width="3.8" height="1.3" fill="#000"/><rect x="52.80" y="33.70" width="3.8" height="1.3" fill="#000"/><rect x="47.80" y="21.82" width="8.8" height="2.8" fill="#000"/><rect x="52.80" y="11.44" width="3.8" height="1.3" fill="#000"/><rect x="52.80" y="0.31" width="3.8" height="1.3" fill="#000"/><rect x="56.45" y="202.10" width="2.9" height="9.4" fill="#000"/><rect x="71.80" y="202.10" width="1.4" height="4.7" fill="#000"/><rect x="80.34" y="202.10" width="1.4" height="4.7" fill="#000"/><rect x="86.40" y="202.10" width="1.4" height="4.7" fill="#000"/><rect x="91.05" y="202.10" width="1.5" height="6.8" fill="#000"/><rect x="94.94" y="202.10" width="1.4" height="4.7" fill="#000"/><rect x="98.19" y="202.10" width="1.4" height="4.7" fill="#000"/><rect x="101.00" y="202.10" width="1.4" height="4.7" fill="#000"/><rect x="103.48" y="202.10" width="1.4" height="4.7" fill="#000"/><rect x="104.95" y="202.10" width="2.9" height="9.4" fill="#000"/><rect x="120.30" y="202.10" width="1.4" height="4.7" fill="#000"/><rect x="128.84" y="202.10" width="1.4" height="4.7" fill="#000"/><rect x="134.90" y="202.10" width="1.4" height="4.7" fill="#000"/><rect x="139.55" y="202.10" width="1.5" height="6.8" fill="#000"/><rect x="143.44" y="202.10" width="1.4" height="4.7" fill="#000"/><rect x="146.69" y="202.10" width="1.4" height="4.7" fill="#000"/><rect x="149.50" y="202.10" width="1.4" height="4.7" fill="#000"/><rect x="151.98" y="202.10" width="1.4" height="4.7" fill="#000"/><rect x="153.45" y="202.10" width="2.9" height="9.4" fill="#000"/><rect x="168.80" y="202.10" width="1.4" height="4.7" fill="#000"/><rect x="177.34" y="202.10" width="1.4" height="4.7" fill="#000"/><rect x="183.40" y="202.10" width="1.4" height="4.7" fill="#000"/><rect x="188.05" y="202.10" width="1.5" height="6.8" fill="#000"/><rect x="191.94" y="202.10" width="1.4" height="4.7" fill="#000"/><rect x="195.19" y="202.10" width="1.4" height="4.7" fill="#000"/><rect x="198.00" y="202.10" width="1.4" height="4.7" fill="#000"/><rect x="200.48" y="202.10" width="1.4" height="4.7" fill="#000"/><rect x="201.95" y="202.10" width="2.9" height="9.4" fill="#000"/><rect x="217.30" y="202.10" width="1.4" height="4.7" fill="#000"/><rect x="225.84" y="202.10" width="1.4" height="4.7" fill="#000"/><rect x="231.90" y="202.10" width="1.4" height="4.7" fill="#000"/><rect x="236.55" y="202.10" width="1.5" height="6.8" fill="#000"/><rect x="240.44" y="202.10" width="1.4" height="4.7" fill="#000"/><rect x="243.69" y="202.10" width="1.4" height="4.7" fill="#000"/><rect x="246.50" y="202.10" width="1.4" height="4.7" fill="#000"/><rect x="248.98" y="202.10" width="1.4" height="4.7" fill="#000"/><rect x="250.45" y="202.10" width="2.9" height="9.4" fill="#000"/><rect x="56.60" y="-0.05" width="196.40" height="1.3" fill="#111"/><rect x="252.30" y="0.60" width="1.4" height="201.50" fill="#222"/><rect x="56.00" y="-0.05" width="1.2" height="202.50" fill="#000"/><rect x="56.00" y="201.45" width="197.60" height="1.3" fill="#000"/><rect x="313.50" y="199.90" width="8.8" height="2.8" fill="#000"/><rect x="318.50" y="193.73" width="3.8" height="1.3" fill="#000"/><rect x="318.50" y="186.81" width="3.8" height="1.3" fill="#000"/><rect x="318.50" y="179.89" width="3.8" height="1.3" fill="#000"/><rect x="318.50" y="172.97" width="3.8" height="1.3" fill="#000"/><rect x="313.50" y="165.30" width="8.8" height="2.8" fill="#000"/><rect x="318.50" y="159.13" width="3.8" height="1.3" fill="#000"/><rect x="318.50" y="152.21" width="3.8" height="1.3" fill="#000"/><rect x="318.50" y="145.29" width="3.8" height="1.3" fill="#000"/><rect x="318.50" y="138.37" width="3.8" height="1.3" fill="#000"/><rect x="313.50" y="130.70" width="8.8" height="2.8" fill="#000"/><rect x="318.50" y="124.53" width="3.8" height="1.3" fill="#000"/><rect x="318.50" y="117.61" width="3.8" height="1.3" fill="#000"/><rect x="318.50" y="110.69" width="3.8" height="1.3" fill="#000"/><rect x="318.50" y="103.77" width="3.8" height="1.3" fill="#000"/><rect x="313.50" y="96.10" width="8.8" height="2.8" fill="#000"/><rect x="318.50" y="89.93" width="3.8" height="1.3" fill="#000"/><rect x="318.50" y="83.01" width="3.8" height="1.3" fill="#000"/><rect x="318.50" y="76.09" width="3.8" height="1.3" fill="#000"/><rect x="318.50" y="69.17" width="3.8" height="1.3" fill="#000"/><rect x="313.50" y="61.50" width="8.8" height="2.8" fill="#000"/><rect x="318.50" y="55.33" width="3.8" height="1.3" fill="#000"/><rect x="318.50" y="48.41" width="3.8" height="1.3" fill="#000"/><rect x="318.50" y="41.49" width="3.8" height="1.3" fill="#000"/><rect x="318.50" y="34.57" width="3.8" height="1.3" fill="#000"/><rect x="313.50" y="26.90" width="8.8" height="2.8" fill="#000"/><rect x="318.50" y="20.73" width="3.8" height="1.3" fill="#000"/><rect x="318.50" y="13.81" width="3.8" height="1.3" fill="#000"/><rect x="318.50" y="6.89" width="3.8" height="1.3" fill="#000"/><rect x="318.50" y="-0.03" width="3.8" height="1.3" fill="#000"/><rect x="322.65" y="202.10" width="2.9" height="9.4" fill="#000"/><rect x="337.94" y="202.10" width="1.4" height="4.7" fill="#000"/><rect x="346.44" y="202.10" width="1.4" height="4.7" fill="#000"/><rect x="352.48" y="202.10" width="1.4" height="4.7" fill="#000"/><rect x="357.11" y="202.10" width="1.5" height="6.8" fill="#000"/><rect x="360.98" y="202.10" width="1.4" height="4.7" fill="#000"/><rect x="364.22" y="202.10" width="1.4" height="4.7" fill="#000"/><rect x="367.02" y="202.10" width="1.4" height="4.7" fill="#000"/><rect x="369.49" y="202.10" width="1.4" height="4.7" fill="#000"/><rect x="370.95" y="202.10" width="2.9" height="9.4" fill="#000"/><rect x="386.24" y="202.10" width="1.4" height="4.7" fill="#000"/><rect x="394.74" y="202.10" width="1.4" height="4.7" fill="#000"/><rect x="400.78" y="202.10" width="1.4" height="4.7" fill="#000"/><rect x="405.41" y="202.10" width="1.5" height="6.8" fill="#000"/><rect x="409.28" y="202.10" width="1.4" height="4.7" fill="#000"/><rect x="412.52" y="202.10" width="1.4" height="4.7" fill="#000"/><rect x="415.32" y="202.10" width="1.4" height="4.7" fill="#000"/><rect x="417.79" y="202.10" width="1.4" height="4.7" fill="#000"/><rect x="419.25" y="202.10" width="2.9" height="9.4" fill="#000"/><rect x="434.54" y="202.10" width="1.4" height="4.7" fill="#000"/><rect x="443.04" y="202.10" width="1.4" height="4.7" fill="#000"/><rect x="449.08" y="202.10" width="1.4" height="4.7" fill="#000"/><rect x="453.71" y="202.10" width="1.5" height="6.8" fill="#000"/><rect x="457.58" y="202.10" width="1.4" height="4.7" fill="#000"/><rect x="460.82" y="202.10" width="1.4" height="4.7" fill="#000"/><rect x="463.62" y="202.10" width="1.4" height="4.7" fill="#000"/><rect x="466.09" y="202.10" width="1.4" height="4.7" fill="#000"/><rect x="467.55" y="202.10" width="2.9" height="9.4" fill="#000"/><rect x="482.84" y="202.10" width="1.4" height="4.7" fill="#000"/><rect x="491.34" y="202.10" width="1.4" height="4.7" fill="#000"/><rect x="497.38" y="202.10" width="1.4" height="4.7" fill="#000"/><rect x="502.01" y="202.10" width="1.5" height="6.8" fill="#000"/><rect x="505.88" y="202.10" width="1.4" height="4.7" fill="#000"/><rect x="509.12" y="202.10" width="1.4" height="4.7" fill="#000"/><rect x="511.92" y="202.10" width="1.4" height="4.7" fill="#000"/><rect x="514.39" y="202.10" width="1.4" height="4.7" fill="#000"/><rect x="515.85" y="202.10" width="2.9" height="9.4" fill="#000"/><rect x="322.30" y="-0.05" width="197.00" height="1.3" fill="#111"/><rect x="518.60" y="0.60" width="1.4" height="201.50" fill="#222"/><rect x="321.70" y="-0.05" width="1.2" height="202.50" fill="#000"/><rect x="321.70" y="201.45" width="198.20" height="1.3" fill="#000"/><rect x="46.70" y="469.90" width="8.8" height="2.8" fill="#000"/><rect x="51.70" y="456.35" width="3.8" height="1.3" fill="#000"/><rect x="51.70" y="442.05" width="3.8" height="1.3" fill="#000"/><rect x="46.70" y="427.00" width="8.8" height="2.8" fill="#000"/><rect x="51.70" y="413.45" width="3.8" height="1.3" fill="#000"/><rect x="51.70" y="399.15" width="3.8" height="1.3" fill="#000"/><rect x="46.70" y="384.10" width="8.8" height="2.8" fill="#000"/><rect x="51.70" y="370.55" width="3.8" height="1.3" fill="#000"/><rect x="51.70" y="356.25" width="3.8" height="1.3" fill="#000"/><rect x="46.70" y="341.20" width="8.8" height="2.8" fill="#000"/><rect x="51.70" y="327.65" width="3.8" height="1.3" fill="#000"/><rect x="51.70" y="313.35" width="3.8" height="1.3" fill="#000"/><rect x="46.70" y="298.30" width="8.8" height="2.8" fill="#000"/><rect x="51.70" y="284.75" width="3.8" height="1.3" fill="#000"/><rect x="51.70" y="270.45" width="3.8" height="1.3" fill="#000"/><rect x="55.35" y="472.30" width="2.9" height="9.6" fill="#000"/><rect x="70.73" y="472.30" width="1.4" height="4.7" fill="#000"/><rect x="79.29" y="472.30" width="1.4" height="4.7" fill="#000"/><rect x="85.36" y="472.30" width="1.4" height="4.7" fill="#000"/><rect x="90.02" y="472.30" width="1.5" height="6.8" fill="#000"/><rect x="93.92" y="472.30" width="1.4" height="4.7" fill="#000"/><rect x="97.17" y="472.30" width="1.4" height="4.7" fill="#000"/><rect x="99.99" y="472.30" width="1.4" height="4.7" fill="#000"/><rect x="102.48" y="472.30" width="1.4" height="4.7" fill="#000"/><rect x="103.95" y="472.30" width="2.9" height="9.6" fill="#000"/><rect x="119.33" y="472.30" width="1.4" height="4.7" fill="#000"/><rect x="127.89" y="472.30" width="1.4" height="4.7" fill="#000"/><rect x="133.96" y="472.30" width="1.4" height="4.7" fill="#000"/><rect x="138.62" y="472.30" width="1.5" height="6.8" fill="#000"/><rect x="142.52" y="472.30" width="1.4" height="4.7" fill="#000"/><rect x="145.77" y="472.30" width="1.4" height="4.7" fill="#000"/><rect x="148.59" y="472.30" width="1.4" height="4.7" fill="#000"/><rect x="151.08" y="472.30" width="1.4" height="4.7" fill="#000"/><rect x="152.55" y="472.30" width="2.9" height="9.6" fill="#000"/><rect x="167.93" y="472.30" width="1.4" height="4.7" fill="#000"/><rect x="176.49" y="472.30" width="1.4" height="4.7" fill="#000"/><rect x="182.56" y="472.30" width="1.4" height="4.7" fill="#000"/><rect x="187.22" y="472.30" width="1.5" height="6.8" fill="#000"/><rect x="191.12" y="472.30" width="1.4" height="4.7" fill="#000"/><rect x="194.37" y="472.30" width="1.4" height="4.7" fill="#000"/><rect x="197.19" y="472.30" width="1.4" height="4.7" fill="#000"/><rect x="199.68" y="472.30" width="1.4" height="4.7" fill="#000"/><rect x="201.15" y="472.30" width="2.9" height="9.6" fill="#000"/><rect x="216.53" y="472.30" width="1.4" height="4.7" fill="#000"/><rect x="225.09" y="472.30" width="1.4" height="4.7" fill="#000"/><rect x="231.16" y="472.30" width="1.4" height="4.7" fill="#000"/><rect x="235.82" y="472.30" width="1.5" height="6.8" fill="#000"/><rect x="239.72" y="472.30" width="1.4" height="4.7" fill="#000"/><rect x="242.97" y="472.30" width="1.4" height="4.7" fill="#000"/><rect x="245.79" y="472.30" width="1.4" height="4.7" fill="#000"/><rect x="248.28" y="472.30" width="1.4" height="4.7" fill="#000"/><rect x="249.75" y="472.30" width="2.9" height="9.6" fill="#000"/><rect x="55.50" y="270.45" width="196.50" height="1.3" fill="#111"/><rect x="251.30" y="271.10" width="1.4" height="201.20" fill="#222"/><rect x="54.90" y="270.45" width="1.2" height="202.20" fill="#000"/><rect x="54.90" y="471.65" width="197.70" height="1.3" fill="#000"/><text x="5.16" y="16.53" font-size="18" font-weight="normal" textLength="12.14" lengthAdjust="spacingAndGlyphs" stroke="#111" stroke-width="0.6">A</text><text x="269.50" y="16.44" font-size="18" font-weight="normal" textLength="12.60" lengthAdjust="spacingAndGlyphs" stroke="#111" stroke-width="0.6">B</text><text x="4.89" y="276.45" font-size="18" font-weight="normal" textLength="12.95" lengthAdjust="spacingAndGlyphs" stroke="#111" stroke-width="0.6">C</text><text x="221.77" y="18.28" font-size="14" font-weight="normal" textLength="25.99" lengthAdjust="spacingAndGlyphs" stroke="#111" stroke-width="0.35">CD4</text><text x="485.78" y="17.96" font-size="14" font-weight="normal" textLength="25.90" lengthAdjust="spacingAndGlyphs" stroke="#111" stroke-width="0.35">CD8</text><text x="229.76" y="287.02" font-size="14" font-weight="normal" textLength="18.15" lengthAdjust="spacingAndGlyphs" stroke="#111" stroke-width="0.35">NK</text><text x="29.25" y="27.94" font-size="11.3" font-weight="normal" textLength="11.67" lengthAdjust="spacingAndGlyphs" stroke="#111" stroke-width="0.65">40</text><text x="29.15" y="72.70" font-size="11.3" font-weight="normal" textLength="12.15" lengthAdjust="spacingAndGlyphs" stroke="#111" stroke-width="0.65">30</text><text x="29.15" y="116.71" font-size="11.3" font-weight="normal" textLength="12.06" lengthAdjust="spacingAndGlyphs" stroke="#111" stroke-width="0.65">20</text><text x="29.33" y="161.16" font-size="11.3" font-weight="normal" textLength="11.30" lengthAdjust="spacingAndGlyphs" stroke="#111" stroke-width="0.65">10</text><text x="35.67" y="200.33" font-size="11.3" font-weight="normal" textLength="6.20" lengthAdjust="spacingAndGlyphs" stroke="#111" stroke-width="0.65">0</text><text x="295.45" y="32.88" font-size="11.3" font-weight="normal" textLength="12.14" lengthAdjust="spacingAndGlyphs" stroke="#111" stroke-width="0.65">25</text><text x="295.35" y="67.81" font-size="11.3" font-weight="normal" textLength="12.12" lengthAdjust="spacingAndGlyphs" stroke="#111" stroke-width="0.65">20</text><text x="295.91" y="100.95" font-size="11.3" font-weight="normal" textLength="11.54" lengthAdjust="spacingAndGlyphs" stroke="#111" stroke-width="0.65">15</text><text x="295.93" y="137.49" font-size="11.3" font-weight="normal" textLength="11.44" lengthAdjust="spacingAndGlyphs" stroke="#111" stroke-width="0.65">10</text><text x="291.25" y="171.90" font-size="11.3" font-weight="normal" textLength="15.42" lengthAdjust="spacingAndGlyphs" stroke="#111" stroke-width="0.65">5.0</text><text x="301.65" y="200.36" font-size="11.3" font-weight="normal" textLength="6.01" lengthAdjust="spacingAndGlyphs" stroke="#111" stroke-width="0.65">0</text><text x="28.89" y="304.17" font-size="11.3" font-weight="normal" textLength="11.00" lengthAdjust="spacingAndGlyphs" stroke="#111" stroke-width="0.65">12</text><text x="24.11" y="347.10" font-size="11.3" font-weight="normal" textLength="14.24" lengthAdjust="spacingAndGlyphs" stroke="#111" stroke-width="0.65">9.0</text><text x="23.90" y="390.58" font-size="11.3" font-weight="normal" textLength="14.28" lengthAdjust="spacingAndGlyphs" stroke="#111" stroke-width="0.65">6.0</text><text x="24.01" y="432.52" font-size="11.3" font-weight="normal" textLength="14.26" lengthAdjust="spacingAndGlyphs" stroke="#111" stroke-width="0.65">3.0</text><text x="34.36" y="470.59" font-size="11.3" font-weight="normal" textLength="6.27" lengthAdjust="spacingAndGlyphs" stroke="#111" stroke-width="0.65">0</text><text x="63.20" y="230.46" font-size="11.3" font-weight="normal" textLength="11.48" lengthAdjust="spacingAndGlyphs" stroke="#111" stroke-width="0.65">10</text><text x="75.62" y="222.75" font-size="11.3" font-weight="normal" textLength="5.98" lengthAdjust="spacingAndGlyphs" stroke="#111" stroke-width="0.65">0</text><text x="154.37" y="230.76" font-size="11.3" font-weight="normal" textLength="11.59" lengthAdjust="spacingAndGlyphs" stroke="#111" stroke-width="0.65">10</text><text x="166.80" y="222.27" font-size="11.3" font-weight="normal" textLength="5.77" lengthAdjust="spacingAndGlyphs" stroke="#111" stroke-width="0.65">2</text><text x="233.90" y="230.61" font-size="11.3" font-weight="normal" textLength="11.55" lengthAdjust="spacingAndGlyphs" stroke="#111" stroke-width="0.65">10</text><text x="246.44" y="222.78" font-size="11.3" font-weight="normal" textLength="5.72" lengthAdjust="spacingAndGlyphs" stroke="#111" stroke-width="0.65">4</text><text x="328.94" y="230.58" font-size="11.3" font-weight="normal" textLength="11.78" lengthAdjust="spacingAndGlyphs" stroke="#111" stroke-width="0.65">10</text><text x="341.62" y="222.75" font-size="11.3" font-weight="normal" textLength="5.98" lengthAdjust="spacingAndGlyphs" stroke="#111" stroke-width="0.65">0</text><text x="419.82" y="230.61" font-size="11.3" font-weight="normal" textLength="11.62" lengthAdjust="spacingAndGlyphs" stroke="#111" stroke-width="0.65">10</text><text x="432.31" y="222.19" font-size="11.3" font-weight="normal" textLength="5.35" lengthAdjust="spacingAndGlyphs" stroke="#111" stroke-width="0.65">2</text><text x="499.82" y="230.61" font-size="11.3" font-weight="normal" textLength="11.62" lengthAdjust="spacingAndGlyphs" stroke="#111" stroke-width="0.65">10</text><text x="512.48" y="222.60" font-size="11.3" font-weight="normal" textLength="5.52" lengthAdjust="spacingAndGlyphs" stroke="#111" stroke-width="0.65">4</text><text x="61.90" y="501.49" font-size="11.3" font-weight="normal" textLength="11.55" lengthAdjust="spacingAndGlyphs" stroke="#111" stroke-width="0.65">10</text><text x="74.64" y="492.99" font-size="11.3" font-weight="normal" textLength="5.59" lengthAdjust="spacingAndGlyphs" stroke="#111" stroke-width="0.65">0</text><text x="153.93" y="500.93" font-size="11.3" font-weight="normal" textLength="11.10" lengthAdjust="spacingAndGlyphs" stroke="#111" stroke-width="0.65">10</text><text x="165.73" y="493.64" font-size="11.3" font-weight="normal" textLength="5.93" lengthAdjust="spacingAndGlyphs" stroke="#111" stroke-width="0.65">2</text><text x="234.00" y="501.47" font-size="11.3" font-weight="normal" textLength="11.18" lengthAdjust="spacingAndGlyphs" stroke="#111" stroke-width="0.65">10</text><text x="245.92" y="493.55" font-size="11.3" font-weight="normal" textLength="5.72" lengthAdjust="spacingAndGlyphs" stroke="#111" stroke-width="0.65">4</text><text x="138.36" y="250.66" font-size="14.5" font-weight="normal" textLength="27.09" lengthAdjust="spacingAndGlyphs" stroke="#111" stroke-width="0.6">IFNγ</text><text x="404.36" y="250.26" font-size="14.5" font-weight="normal" textLength="27.09" lengthAdjust="spacingAndGlyphs" stroke="#111" stroke-width="0.6">IFNγ</text><text x="137.59" y="520.26" font-size="14.5" font-weight="normal" textLength="26.35" lengthAdjust="spacingAndGlyphs" stroke="#111" stroke-width="0.6">IFNγ</text><text x="0" y="0" font-size="15" font-weight="normal" textLength="38.91" lengthAdjust="spacingAndGlyphs" stroke="#111" stroke-width="0.6" transform="translate(11.66,118.75) rotate(-90)">Count</text><text x="0" y="0" font-size="15" font-weight="normal" textLength="38.91" lengthAdjust="spacingAndGlyphs" stroke="#111" stroke-width="0.6" transform="translate(277.40,118.75) rotate(-90)">Count</text><text x="0" y="0" font-size="15" font-weight="normal" textLength="38.63" lengthAdjust="spacingAndGlyphs" stroke="#111" stroke-width="0.6" transform="translate(11.05,388.73) rotate(-90)">Count</text><text x="292.64" y="281.92" font-size="14.2" font-weight="normal" textLength="68.11" lengthAdjust="spacingAndGlyphs" stroke="#111" stroke-width="0.55">Uncultured</text><text x="292.57" y="302.13" font-size="14.4" font-weight="normal" textLength="74.84" lengthAdjust="spacingAndGlyphs" stroke="#111" stroke-width="0.55">+ Golgi plug</text><text x="292.56" y="324.13" font-size="14.4" font-weight="normal" textLength="157.60" lengthAdjust="spacingAndGlyphs" stroke="#111" stroke-width="0.55">+ Golgi plug + stimulation</text><rect x="271.9" y="270.90" width="13.1" height="12.8" fill="#E3963A"/><rect x="271.9" y="291.10" width="13.1" height="12.8" fill="#78BEEC"/><rect x="271.9" y="311.90" width="13.1" height="12.8" fill="#CC2C30"/></svg></body></html>
